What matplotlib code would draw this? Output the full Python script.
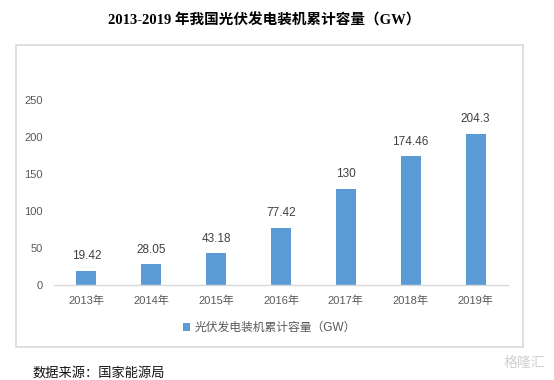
import matplotlib.pyplot as plt
from matplotlib.patches import Rectangle

years = ['2013年', '2014年', '2015年', '2016年', '2017年', '2018年', '2019年']
capacity = [19.42, 28.05, 43.18, 77.42, 130, 174.46, 204.3]
value_labels = ['19.42', '28.05', '43.18', '77.42', '130', '174.46', '204.3']
yticks = [0, 50, 100, 150, 200, 250]

title = '2013-2019 年我国光伏发电装机累计容量（GW）'
series_name = '光伏发电装机累计容量（GW）'
source = '数据来源：国家能源局'

plt.rcParams['font.family'] = ['Liberation Sans', 'Noto Sans CJK SC', 'DejaVu Sans']

fig = plt.figure(figsize=(5.54, 3.8), dpi=100)

# outer frame around the chart
fig.patches.append(Rectangle((0.0289, 0.0868), 0.915, 0.795, transform=fig.transFigure,
                             fill=False, edgecolor='#d9d9d9', linewidth=1.2))

ax = fig.add_axes([0.0975, 0.25, 0.8195, 0.4868])
x = range(len(years))
bars = ax.bar(x, capacity, width=0.31, color='#5b9bd5', label=series_name)

for xi, v, s in zip(x, capacity, value_labels):
    ax.annotate(s, (xi, v), xytext=(0, 6), textcoords='offset points',
                ha='center', va='bottom', fontsize=8.5, color='#404040')

ax.set_xlim(-0.5, len(years) - 0.5)
ax.set_ylim(0, 250)
ax.set_yticks(yticks)
ax.set_xticks(list(x))
ax.set_xticklabels(years)
ax.tick_params(axis='both', length=0, labelsize=8, labelcolor='#595959')
ax.tick_params(axis='y', pad=8)
ax.tick_params(axis='x', pad=8)
for side in ['top', 'right', 'left']:
    ax.spines[side].set_visible(False)
ax.spines['bottom'].set_color('#d9d9d9')
ax.spines['bottom'].set_linewidth(1)

leg = fig.legend(handles=[bars], labels=[series_name], loc='center',
                 bbox_to_anchor=(0.487, 0.137), frameon=False, fontsize=8.5,
                 handlelength=0.6, handleheight=0.6, handletextpad=0.4)
for t in leg.get_texts():
    t.set_color('#595959')

fig.text(0.4765, 0.947, title, ha='center', va='center', fontsize=10.5,
         fontweight='bold', family=['Liberation Serif', 'Noto Sans CJK SC'])
fig.text(0.0578, 0.018, source, ha='left', va='center', fontsize=9.5,
         family=['Noto Sans CJK SC'], color='#111111')
fig.text(0.985, 0.045, '格隆汇', ha='right', va='center', fontsize=10,
         family=['Noto Sans CJK SC'], color='#d0d0d0')

fig.savefig('out.png', dpi=100)
